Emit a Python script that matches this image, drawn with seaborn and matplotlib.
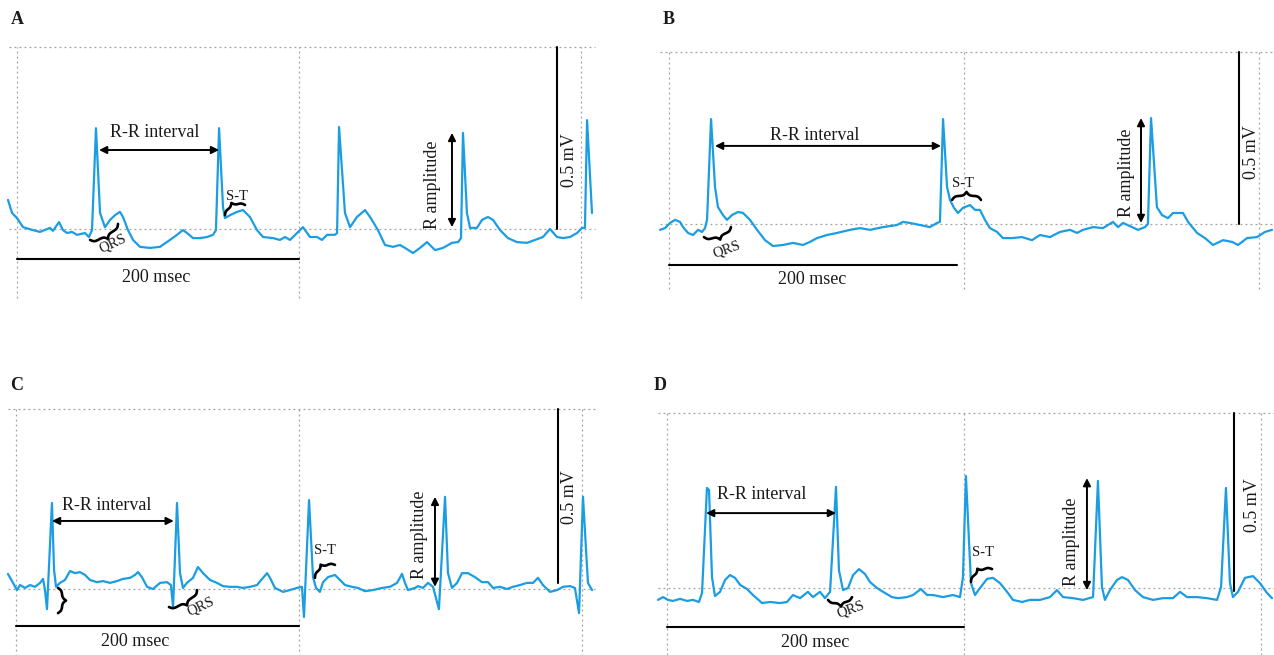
import numpy as np
import matplotlib
matplotlib.use("Agg")
import matplotlib.pyplot as plt
import seaborn as sns

# ECG traces: time in msec, amplitude in mV
a_time = [-6.4, -3.5, 0, 4.3, 11.3, 16.3, 23.4, 25.5, 29.8, 32.6, 35.5, 39, 42.6, 48.2, 51, 53.2, 56, 58.9,
          62.4, 66, 69.5, 73, 75.2, 78.7, 82.3, 87.2, 94.3, 101.4, 108.5, 113.5, 117.7, 120.6, 124.8, 129.8,
          134.8, 139, 141.1, 143.3, 146.1, 147.5, 151.1, 156, 160.3, 165.2, 170.2, 174.5, 181.6, 186.5, 190.1,
          193.6, 198.6, 202.8, 207.8, 212.8, 216.3, 219.9, 225.5, 227, 228.4, 232.6, 236.2, 241.1, 246.8, 250.4,
          256, 261, 266.7, 271.6, 275.2, 280.9, 285.8, 290.8, 296.5, 302.1, 308.5, 312.8, 314.9, 316.3, 319.1,
          321.3, 326.2, 329.8, 334, 337.6, 342.6, 348.2, 354.6, 361.7, 367.4, 373, 378, 383, 387.2, 392.2,
          397.2, 400.7, 402.8, 404.3, 407.8]
a_mv = [0.080, 0.044, 0.030, 0.005, -0.003, -0.008, 0.003, -0.005, 0.019, -0.003, -0.011, -0.008, -0.016,
        -0.011, -0.022, -0.003, 0.277, 0.044, 0.005, 0.025, 0.038, 0.047, 0.033, -0.003, -0.030, -0.049,
        -0.052, -0.049, -0.030, -0.016, -0.003, -0.011, -0.025, -0.025, -0.022, -0.016, -0.003, 0.277, 0.060,
        0.030, 0.038, 0.047, 0.052, 0.033, -0.003, -0.022, -0.025, -0.030, -0.022, -0.030, -0.011, 0.005,
        -0.022, -0.022, -0.030, -0.016, -0.016, -0.011, 0.280, 0.044, 0.005, 0.033, 0.052, 0.033, -0.003,
        -0.044, -0.049, -0.044, -0.052, -0.066, -0.052, -0.036, -0.058, -0.052, -0.038, -0.036, -0.025, 0.264,
        0.044, 0.003, 0.003, 0.025, 0.033, 0.025, -0.003, -0.025, -0.036, -0.038, -0.030, -0.022, 0.000,
        -0.022, -0.025, -0.022, -0.011, 0.003, 0.003, 0.299, 0.044]

b_time = [-6.1, -2.7, 0.7, 4.1, 7.5, 9.5, 12.9, 16.3, 19.7, 22.4, 24.4, 25.8, 28.5, 31.2, 33.2, 36.6, 39.3,
          42.7, 46.8, 50.2, 54.9, 59.7, 65.1, 70.5, 77.3, 84.1, 90.8, 95.6, 100.3, 107.1, 113.9, 122.7, 129.5,
          136.3, 145.1, 154.6, 158.6, 163.4, 170.2, 176.9, 181.7, 183.7, 185.8, 188.5, 190.5, 193.2, 195.9,
          199.3, 204.1, 207.5, 210.8, 214.2, 217.6, 222.4, 226.4, 232.5, 239.3, 246.1, 251.5, 258.3, 265.1,
          271.9, 276.6, 280.7, 287.5, 294.2, 301, 304.4, 307.8, 313.9, 318, 322.7, 324.7, 326.8, 330.8, 334.2,
          338.3, 341.7, 348.5, 351.9, 358, 363.4, 368.8, 375.6, 381.7, 385.8, 391.9, 398.6, 404.1, 408.8]
b_mv = [-0.017, -0.012, 0.003, 0.012, 0.006, -0.009, -0.026, -0.032, -0.017, -0.023, -0.012, 0.012, 0.305,
        0.108, 0.049, 0.026, 0.012, 0.026, 0.035, 0.032, 0.012, -0.017, -0.047, -0.064, -0.061, -0.055,
        -0.061, -0.052, -0.041, -0.032, -0.026, -0.017, -0.012, -0.017, -0.009, -0.003, 0.006, 0.003, -0.003,
        -0.009, 0.003, 0.006, 0.305, 0.108, 0.070, 0.047, 0.032, 0.047, 0.055, 0.041, 0.041, 0.012, -0.012,
        -0.023, -0.041, -0.041, -0.038, -0.047, -0.032, -0.038, -0.023, -0.017, -0.026, -0.017, -0.009,
        -0.012, 0.006, -0.009, 0.003, -0.009, -0.017, -0.009, 0.000, 0.308, 0.049, 0.026, 0.017, 0.032,
        0.032, 0.006, -0.026, -0.041, -0.061, -0.047, -0.052, -0.061, -0.041, -0.038, -0.023, -0.017]

c_time = [-5.7, -2.1, 0.7, 2.8, 6.4, 9.9, 13.4, 17, 19.1, 20.5, 21.9, 25.4, 26.9, 28.3, 31.1, 34.6, 38.2,
          41.7, 45.2, 48.8, 52.3, 57.2, 61.5, 66.4, 71.4, 75.6, 80.6, 84.1, 86.2, 89, 92.6, 96.8, 101.8, 106.7,
          109.5, 111, 113.8, 115.9, 118, 120.8, 125.1, 128.6, 132.2, 137.1, 142, 146.3, 151.2, 156.2, 160.4,
          165.4, 170.3, 174.6, 177.4, 179.5, 183, 188.7, 193.6, 198.6, 202.1, 203.5, 207.1, 209.9, 212, 214.8,
          217, 220.5, 225.4, 229, 232.5, 237.5, 241.7, 246.6, 252.3, 258.7, 264.3, 269.3, 272.8, 274.9, 277,
          282, 284.1, 287.6, 291.2, 294.7, 298.9, 303.2, 305.3, 308.1, 311.7, 315.2, 319.4, 324.4, 329.3,
          333.6, 337.1, 342, 347, 351.2, 356.2, 361.1, 365.4, 368.9, 372.4, 377.4, 382.3, 386.6, 391.5, 395,
          397.9, 400.7, 404.2, 407.1]
c_mv = [0.042, 0.017, -0.003, 0.011, 0.003, 0.011, 0.006, 0.017, 0.028, -0.003, -0.056, 0.239, 0.053, 0.006,
        0.017, 0.025, 0.050, 0.044, 0.047, 0.039, 0.025, 0.019, 0.022, 0.017, 0.022, 0.028, 0.031, 0.039,
        0.047, 0.033, 0.006, 0.000, 0.017, 0.019, 0.011, -0.050, 0.239, 0.044, 0.003, 0.017, 0.031, 0.061,
        0.044, 0.025, 0.017, 0.008, 0.006, 0.006, 0.003, 0.006, 0.011, 0.031, 0.044, 0.031, 0.003, -0.008,
        -0.003, 0.003, 0.006, -0.078, 0.247, 0.033, 0.003, -0.008, 0.019, 0.033, 0.039, 0.025, 0.011, 0.006,
        0.003, -0.006, -0.003, 0.003, 0.006, 0.017, 0.042, 0.017, -0.003, 0.003, 0.008, 0.003, 0.017, 0.006,
        -0.056, 0.256, 0.044, 0.003, 0.017, 0.044, 0.044, 0.033, 0.019, 0.019, 0.003, 0.006, 0.000, 0.006,
        0.011, 0.017, 0.017, 0.031, 0.011, -0.008, -0.003, 0.006, 0.008, 0.003, -0.067, 0.256, 0.017, -0.003]

d_time = [-6.1, -2.7, 0.7, 4, 8.8, 13.5, 17.5, 21.5, 23.6, 26.9, 28.3, 30.3, 32.3, 35.7, 39.1, 42.4, 45.8,
          49.2, 53.9, 57.9, 64, 69.4, 76.1, 80.8, 84.8, 89.6, 94.9, 98.3, 103, 106.4, 109.8, 113.8, 115.8,
          118.5, 121.9, 125.3, 129.3, 133.3, 136.7, 141.4, 145.5, 151.5, 155.6, 161.6, 165.7, 171, 175.1,
          179.1, 185.9, 192.6, 197.3, 199.3, 201.3, 202.7, 204.7, 207.4, 210.8, 215.5, 219.5, 224.2, 229, 233,
          239.1, 244.4, 251.2, 257.9, 262.6, 266.7, 273.4, 280.1, 286.9, 290.2, 292.9, 294.9, 298.3, 303,
          306.4, 310.4, 315.2, 320.5, 327.3, 334, 340.7, 345.5, 350.2, 356.9, 363.6, 370.4, 373.1, 376.4,
          379.1, 381.1, 384.5, 389.2, 394.6, 399.3, 404, 407.4]
d_mv = [-0.034, -0.026, -0.034, -0.037, -0.031, -0.037, -0.034, -0.040, -0.014, 0.286, 0.280, 0.031, -0.023,
        -0.011, 0.023, 0.037, 0.029, 0.009, -0.003, -0.020, -0.043, -0.040, -0.043, -0.040, -0.020, -0.029,
        -0.011, -0.026, -0.011, -0.029, -0.011, 0.289, 0.051, -0.006, 0.000, 0.037, 0.054, 0.040, 0.017,
        0.000, -0.011, -0.026, -0.029, -0.026, -0.020, -0.003, -0.020, -0.020, -0.026, -0.020, -0.026, 0.031,
        0.320, 0.194, 0.014, -0.020, 0.000, 0.026, 0.029, 0.014, -0.011, -0.034, -0.040, -0.034, -0.034,
        -0.026, -0.006, -0.026, -0.029, -0.034, -0.026, 0.306, 0.003, -0.034, -0.006, 0.023, 0.031, 0.023,
        -0.006, -0.026, -0.034, -0.029, -0.029, -0.011, -0.026, -0.026, -0.029, -0.034, 0.003, 0.286, 0.014,
        -0.026, -0.011, 0.029, 0.034, 0.014, -0.014, -0.029]

grid_msec = [0, 200, 400]
grid_mv = [0, 0.5]
scale_msec = 200
scale_mv = 0.5

W, H = 1274, 655
ECG_BLUE = "#1b9de2"
INK = "#1a1a1a"
SERIF = ["Liberation Serif", "DejaVu Serif"]

# layout: panel pixel box, pixel position of 0 msec / 0 mV and pixels per unit
panels = {
    "A": dict(t=a_time, v=a_mv, box=(0, 0, 637, 327), x0=17, sx=1.41, y0=229, sy=364, letter=(17, 20),
              rr=(58.2, 143.3, 0.217), rr_txt=(97.9, 0.264),
              braces=[((51.8, -0.030), (71.6, 0.014), -1), ((147.5, 0.038), (161.7, 0.066), 1)],
              qrs_txt=(68, -0.041, 25), st_txt=(156, 0.088),
              bar=(0, 200, -0.082), bar_txt=(99, -0.132),
              ramp=(308.5, 0.005, 0.264), ramp_txt=(295, 0.121),
              mvbar=(383, 0.0, 0.5), mv_txt=(392, 0.19)),
    "B": dict(t=b_time, v=b_mv, box=(637, 0, 1274, 327), x0=669, sx=1.475, y0=224, sy=344, letter=(669, 20),
              rr=(31.2, 184.4, 0.227), rr_txt=(99, 0.256),
              braces=[((23.7, -0.038), (42, -0.009), -1), ((191.9, 0.07), (211.5, 0.07), 1)],
              qrs_txt=(39.3, -0.073, 20), st_txt=(199.3, 0.119),
              bar=(0, 195, -0.119), bar_txt=(97, -0.16),
              ramp=(320, 0.003, 0.308), ramp_txt=(310.5, 0.148),
              mvbar=(386.4, 0.0, 0.5), mv_txt=(395, 0.209)),
    "C": dict(t=c_time, v=c_mv, box=(0, 327, 637, 655), x0=16, sx=1.415, y0=589, sy=360, letter=(17, 385),
              rr=(25.4, 111.5, 0.189), rr_txt=(64.3, 0.233),
              braces=[((108.1, -0.05), (127.9, -0.003), -1), ((211.3, 0.031), (225.4, 0.067), 1),
                      ((29.7, 0.003), (29.7, -0.067), 1)],
              qrs_txt=(130.7, -0.05, 25), st_txt=(218.4, 0.108),
              bar=(0, 200, -0.103), bar_txt=(84, -0.147),
              ramp=(296.1, 0.006, 0.256), ramp_txt=(285.5, 0.15),
              mvbar=(383, 0.017, 0.5), mv_txt=(391.5, 0.256)),
    "D": dict(t=d_time, v=d_mv, box=(637, 327, 1274, 655), x0=667, sx=1.485, y0=588, sy=350, letter=(660, 385),
              rr=(26.3, 113.8, 0.214), rr_txt=(64, 0.266),
              braces=[((108.4, -0.034), (124.6, -0.026), -1), ((204.7, 0.017), (218.9, 0.054), 1)],
              qrs_txt=(123.9, -0.06, 20), st_txt=(212.8, 0.1),
              bar=(0, 200, -0.111), bar_txt=(99.7, -0.157),
              ramp=(282.8, -0.006, 0.314), ramp_txt=(272.7, 0.131),
              mvbar=(381.8, -0.009, 0.5), mv_txt=(394, 0.237)),
}


def draw_brace(ax, p1, p2, side, depth=8.0, lw=1.9):
    # curly brace between two data points, drawn in screen space
    d1 = ax.transData.transform(p1)
    d2 = ax.transData.transform(p2)
    vec = d2 - d1
    length = np.hypot(*vec)
    u = vec / length
    n = np.array([-u[1], u[0]]) * side
    s = np.linspace(0, length / 2, 60)
    beta = 0.7
    half = 1 / (1 + np.exp(-beta * s)) + 1 / (1 + np.exp(-beta * (s - length / 2))) - 0.5
    s_all = np.concatenate([s, length - s[-2::-1]])
    h_all = np.concatenate([half, half[-2::-1]]) * depth
    pts = d1 + np.outer(s_all, u) + np.outer(h_all, n)
    pts = ax.transData.inverted().transform(pts)
    ax.plot(pts[:, 0], pts[:, 1], color="black", lw=lw, solid_capstyle="round", clip_on=False)


sns.set_theme(style="white")
plt.rcParams["font.family"] = SERIF
plt.rcParams["text.color"] = INK

fig = plt.figure(figsize=(W / 100, H / 100), dpi=100)

for name, p in panels.items():
    left, top, right, bottom = p["box"]
    ax = fig.add_axes([left / W, 1 - bottom / H, (right - left) / W, (bottom - top) / H])

    # dotted grid
    ax.hlines(grid_mv, -6, 410, colors="#a0a0a0", lw=0.9, linestyles=(0, (1.5, 2.5)))
    ax.vlines(grid_msec, -0.19, 0.5, colors="#a0a0a0", lw=0.9, linestyles=(0, (1.5, 2.5)))

    sns.lineplot(x=p["t"], y=p["v"], ax=ax, color=ECG_BLUE, lw=1.6, estimator=None, sort=False)

    ax.set_xlim((left - p["x0"]) / p["sx"], (right - p["x0"]) / p["sx"])
    ax.set_ylim((p["y0"] - bottom) / p["sy"], (p["y0"] - top) / p["sy"])
    ax.axis("off")

    arrow = dict(arrowstyle="<|-|>", color="black", lw=1.4, mutation_scale=11, shrinkA=0, shrinkB=0)

    # R-R interval
    x1, x2, y = p["rr"]
    ax.annotate("", xy=(x2, y), xytext=(x1, y), arrowprops=arrow)
    ax.text(*p["rr_txt"], "R-R interval", fontsize=13, ha="center", va="center")

    # R amplitude
    x, y1, y2 = p["ramp"]
    ax.annotate("", xy=(x, y2), xytext=(x, y1), arrowprops=arrow)
    ax.text(*p["ramp_txt"], "R amplitude", fontsize=13, rotation=90, ha="center", va="center")

    # scale bars
    bx1, bx2, by = p["bar"]
    ax.plot([bx1, bx2], [by, by], color="black", lw=1.5)
    ax.text(*p["bar_txt"], f"{scale_msec} msec", fontsize=13, ha="center", va="center")
    mx, my1, my2 = p["mvbar"]
    ax.plot([mx, mx], [my1, my2], color="black", lw=1.5)
    ax.text(*p["mv_txt"], f"{scale_mv} mV", fontsize=13, rotation=90, ha="center", va="center")

    # QRS and S-T segments
    qx, qy, qrot = p["qrs_txt"]
    ax.text(qx, qy, "QRS", fontsize=10.5, rotation=qrot, ha="center", va="center")
    ax.text(*p["st_txt"], "S-T", fontsize=10.5, ha="center", va="center")
    for b1, b2, side in p["braces"]:
        draw_brace(ax, b1, b2, side)

    lx, ly = p["letter"]
    fig.text(lx / W, 1 - ly / H, name, fontsize=13, fontweight="bold", ha="center", va="center")

fig.savefig("out.png", dpi=100)
